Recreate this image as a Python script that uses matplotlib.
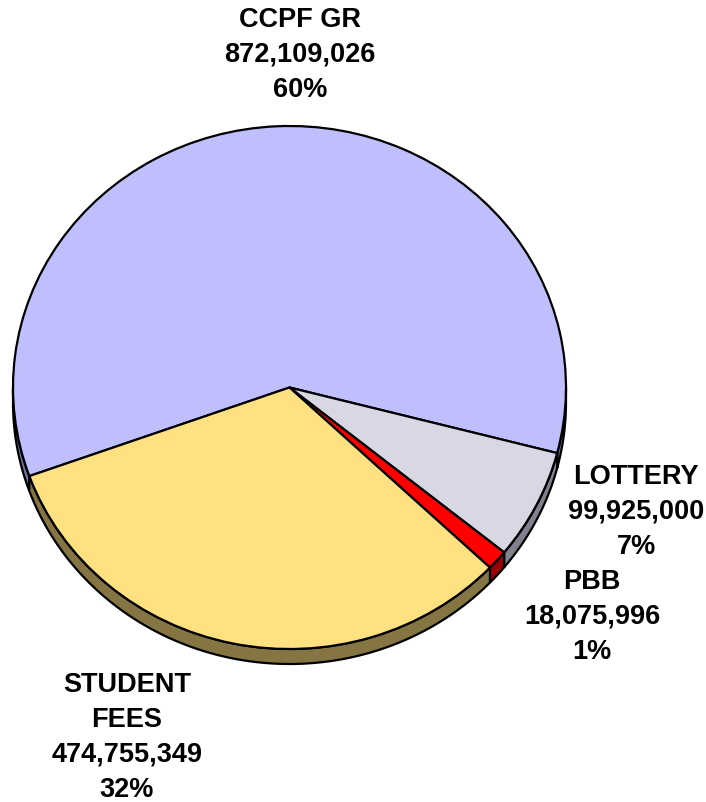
import numpy as np
import matplotlib.pyplot as plt
from matplotlib.patches import Polygon

# --- data ---
labels = ['CCPF GR', 'LOTTERY', 'PBB', 'STUDENT\nFEES']
amounts = [872109026, 99925000, 18075996, 474755349]
pct_text = ['60%', '7%', '1%', '32%']

top_colors = ['#bfbffd', '#d8d8e4', '#ff0000', '#ffe182']
side_colors = ['#70709c', '#80808e', '#990000', '#857543']

# --- layout (pixels of the 706x803 picture) ---
W, H = 706, 803
CX, CY, RX, RY = 289.5, 388.5, 276.5, 261.5
DEPTH = 15 / RY
START = 199.8
label_pos = [(300, 20), (636, 477), (592, 582), (127, 685)]
LINE_STEP = 35


def px(x, y):
    return (x - CX) / RX, (CY - y) / RY


fig = plt.figure(figsize=(W / 100, H / 100), dpi=100)
ax = fig.add_axes([0, 0, 1, 1])

# side walls of the 3d pie (front half only)
fracs = np.array(amounts) / sum(amounts)
edges = START - 360 * np.concatenate([[0], np.cumsum(fracs)])
for i in range(len(amounts)):
    hi, lo = edges[i], edges[i + 1]
    # shift into a range where front half is [-180, 0]
    for off in (0, -360, 360):
        a, b = max(lo + off, -180), min(hi + off, 0)
        if b <= a:
            continue
        t = np.radians(np.linspace(a, b, 120))
        xs = np.cos(t)
        ys = np.sin(t)
        pts = np.vstack([np.column_stack([xs, ys]),
                         np.column_stack([xs[::-1], ys[::-1] - DEPTH])])
        ax.add_patch(Polygon(pts, closed=True, facecolor=side_colors[i],
                             edgecolor='black', linewidth=1.6, zorder=1))

ax.pie(amounts, colors=top_colors, startangle=START, counterclock=False,
       radius=1, center=(0, 0), frame=True,
       wedgeprops=dict(edgecolor='black', linewidth=1.6, zorder=2))
ax.set_xlim(-CX / RX, (W - CX) / RX)
ax.set_ylim((CY - H) / RY, CY / RY)
ax.set_aspect('auto')
ax.axis('off')

# labels
for lab, amt, pct, (lx, ly) in zip(labels, amounts, pct_text, label_pos):
    lines = lab.split('\n') + [f'{amt:,}', pct]
    for k, line in enumerate(lines):
        x, y = px(lx, ly + k * LINE_STEP)
        ax.text(x, y, line, ha='center', va='center', fontsize=19.5,
                fontweight='bold', family='Liberation Sans', color='black')

fig.savefig('out.png', dpi=100)
